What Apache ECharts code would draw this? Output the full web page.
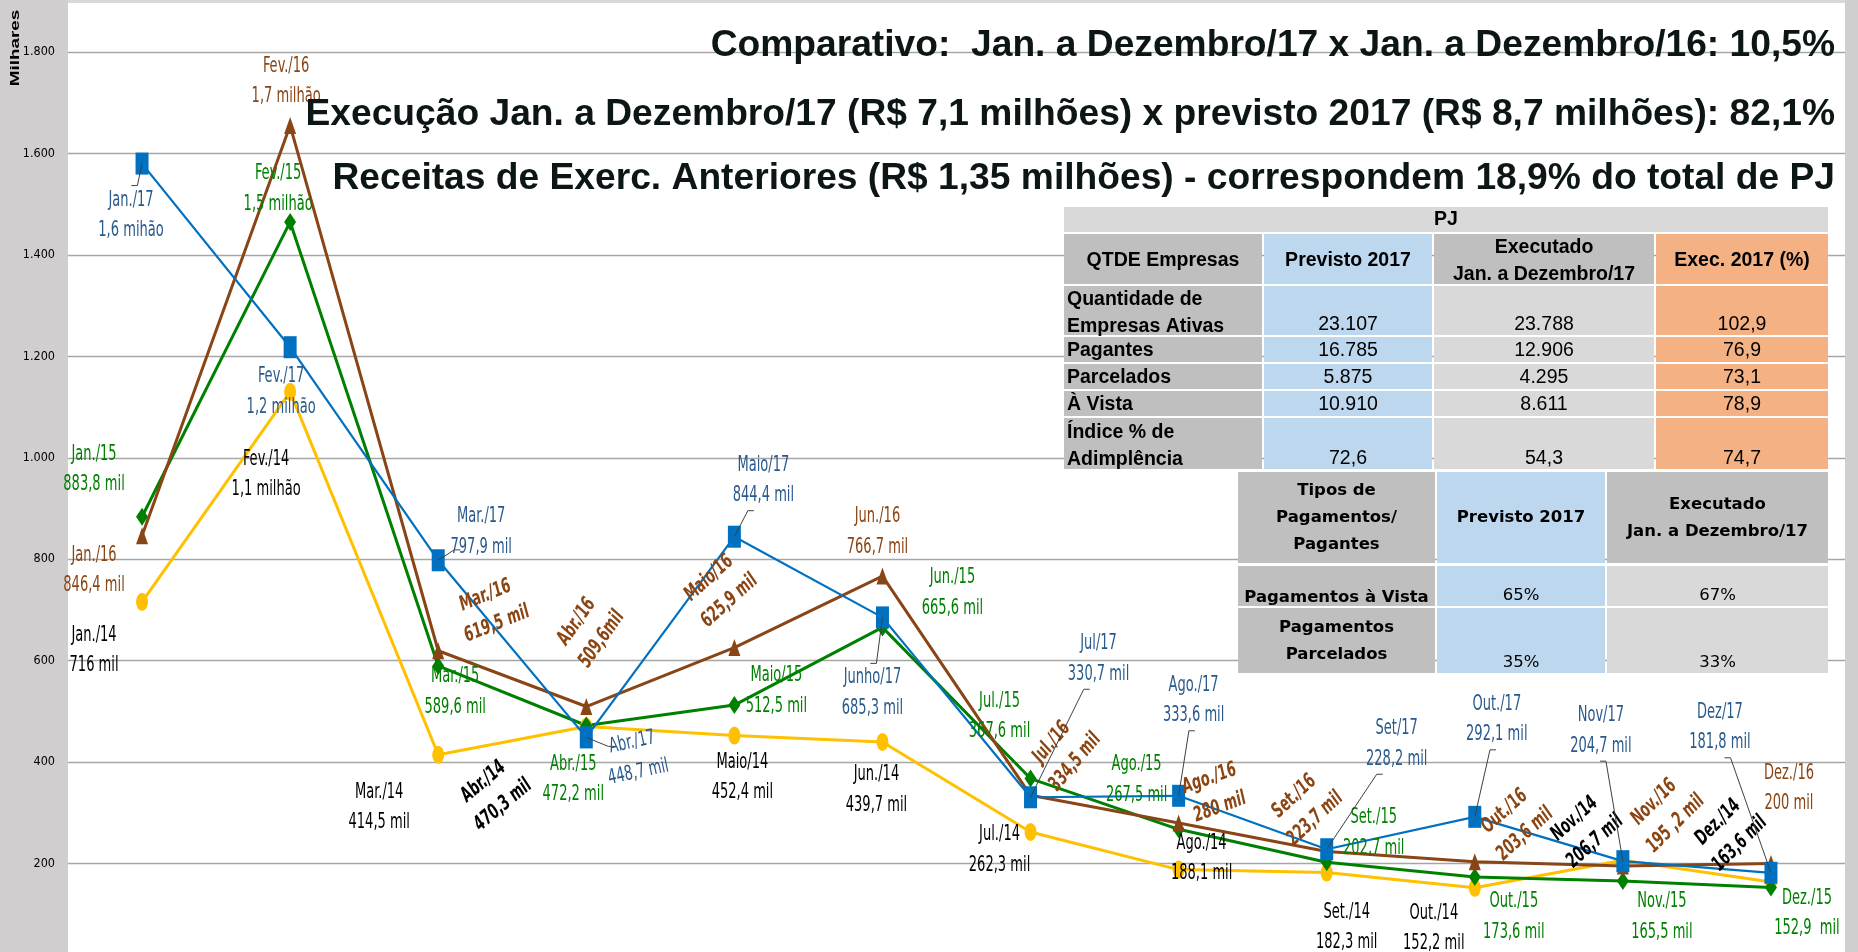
<!DOCTYPE html>
<html><head><meta charset="utf-8">
<script src="https://cdn.jsdelivr.net/npm/echarts@6/dist/echarts.min.js"></script>
<style>html,body{margin:0;padding:0;background:#D0CECE}#c{width:1858px;height:952px}</style>
</head><body><div id="c"></div>
<script>
// ---------- data ----------
const months = ['Jan','Fev','Mar','Abr','Mai','Jun','Jul','Ago','Set','Out','Nov','Dez'];
const v2014 = [716, 1130, 414.5, 470.3, 452.4, 439.7, 262.3, 188.1, 182.3, 152.2, 206.7, 163.6];
const v2015 = [883.8, 1465, 589.6, 472.2, 512.5, 665.6, 367.6, 267.5, 202.7, 173.6, 165.5, 152.9];
const v2016 = [846.4, 1655, 619.5, 509.6, 625.9, 766.7, 334.5, 280, 223.7, 203.6, 195.2, 200];
const v2017 = [1580, 1218, 797.9, 448.7, 844.4, 685.3, 330.7, 333.6, 228.2, 292.1, 204.7, 181.8];

const l2014 = ['Jan./14\n716 mil','Fev./14\n1,1 milhão','Mar./14\n414,5 mil','Abr./14\n470,3 mil','Maio/14\n452,4 mil','Jun./14\n439,7 mil','Jul./14\n262,3 mil','Ago./14\n188,1 mil','Set./14\n182,3 mil','Out./14\n152,2 mil','Nov./14\n206,7 mil','Dez./14\n163,6 mil'];
const l2015 = ['Jan./15\n883,8 mil','Fev./15\n1,5 milhão','Mar./15\n589,6 mil','Abr./15\n472,2 mil','Maio/15\n512,5 mil','Jun./15\n665,6 mil','Jul./15\n367,6 mil','Ago./15\n267,5 mil','Set./15\n202,7 mil','Out./15\n173,6 mil','Nov./15\n165,5 mil','Dez./15\n152,9  mil'];
const l2016 = ['Jan./16\n846,4 mil','Fev./16\n1,7 milhão','Mar./16\n619,5 mil','Abr./16\n509,6mil','Maio/16\n625,9 mil','Jun./16\n766,7 mil','Jul./16\n334,5 mil','Ago./16\n280 mil','Set./16\n223,7 mil','Out./16\n203,6 mil','Nov./16\n195 ,2 mil','Dez./16\n200 mil'];
const l2017 = ['Jan./17\n1,6 mihão','Fev./17\n1,2 milhão','Mar./17\n797,9 mil','Abr./17\n448,7 mil','Maio/17\n844,4 mil','Junho/17\n685,3 mil','Jul/17\n330,7 mil','Ago./17\n333,6 mil','Set/17\n228,2 mil','Out./17\n292,1 mil','Nov/17\n204,7 mil','Dez/17\n181,8 mil'];

const yTicks = [200, 400, 600, 800, 1000, 1200, 1400, 1600, 1800];

const titleLines = [
  'Comparativo:  Jan. a Dezembro/17 x Jan. a Dezembro/16: 10,5%',
  'Execução Jan. a Dezembro/17 (R$ 7,1 milhões) x previsto 2017 (R$ 8,7 milhões): 82,1%',
  'Receitas de Exerc. Anteriores (R$ 1,35 milhões) - correspondem 18,9% do total de PJ'
];

const t1Title = 'PJ';
const t1Header = ['QTDE Empresas','Previsto 2017','Executado\nJan. a Dezembro/17','Exec. 2017 (%)'];
const t1Rows = [
  ['Quantidade de\nEmpresas Ativas','23.107','23.788','102,9'],
  ['Pagantes','16.785','12.906','76,9'],
  ['Parcelados','5.875','4.295','73,1'],
  ['À Vista','10.910','8.611','78,9'],
  ['Índice % de\nAdimplência','72,6','54,3','74,7']
];
const t2Header = ['Tipos de\nPagamentos/\nPagantes','Previsto 2017','Executado\nJan. a Dezembro/17'];
const t2Rows = [
  ['Pagamentos à Vista','65%','67%'],
  ['Pagamentos\nParcelados','35%','33%']
];

// ---------- label layout (pixel offsets of label centre from the point, rotation in degrees) ----------
const lay2014 = [[-48,49,0],[-24,83,0],[-59,53,0],[-93,67,40],[8,42,0],[-6,48,0],[-31,18,0],[23,-11,0],[20,55,0],[-41,41,0],[-38,-30,42],[-42,-49,45]];
const lay2015 = [[-48,-47,0],[-12,-33,0],[17,26,0],[-13,54,0],[42,-14,0],[70,-34,0],[-31,-62,0],[-42,-49,0],[47,-29,0],[39,40,0],[39,36,0],[36,26,0]];
const lay2016 = [[-48,35,0],[-4,-44,0],[53,-41,22],[3,-76,55],[-15,-58,42],[-5,-44,0],[33,-43,50],[36,-30,20],[-22,-44,43],[40,-39,42],[42,-53,45],[18,-75,0]];
const lay2017 = [[-11,52,0],[-9,45,0],[43,-28,0],[49,20,12],[29,-56,0],[-10,76,0],[68,-138,0],[15,-95,0],[70,-105,0],[22,-97,0],[-22,-130,0],[-51,-145,0]];
const leader2017 = [1,0,1,1,1,1,1,1,1,1,1,1];

const NARROW = "'DejaVu Sans Condensed',sans-serif";
const ARIAL = "'Liberation Sans',Arial,sans-serif";
const ELLIPSE = 'path://M0,10A6,10 0 1,1 12,10A6,10 0 1,1 0,10Z';

function mkLine(name, values, color, symbol, symbolSize, width) {
  return {
    name: name, type: 'line', data: values,
    symbol: symbol, symbolSize: symbolSize, showAllSymbol: true,
    lineStyle: { color: color, width: width },
    itemStyle: { color: color },
    label: { show: false },
    emphasis: { disabled: true }, z: 2
  };
}

// data labels: drawn through the axes' coord() with a vertical stretch like the original
function mkLabels(values, labels, lay, color, italicRot, leader) {
  return {
    type: 'custom', silent: true, z: 5, clip: false,
    data: values.map((v, i) => [i, v]),
    renderItem: (params, api) => {
      const i = params.dataIndex;
      const p = api.coord([api.value(0), api.value(1)]);
      const l = lay[i];
      const cx = p[0] + l[0], cy = p[1] + l[1];
      const children = [];
      if (leader && leader[i]) {
        const X = l[0], Y = l[1];
        const t = Math.min(27 / Math.max(Math.abs(X), 1e-6), 30 / Math.max(Math.abs(Y), 1e-6));
        if (t < 1) {
          const ex = p[0] + X * (1 - t), ey = p[1] + Y * (1 - t);
          children.push({ type: 'polyline', shape: { points: [[p[0], p[1]], [ex, ey], [ex + (X >= 0 ? 6 : -6), ey]] },
            style: { stroke: '#404040', lineWidth: 1, fill: null } });
        }
      }
      const italic = l[2] && italicRot;
      children.push({ type: 'text', x: cx, y: cy, rotation: l[2] * Math.PI / 180, scaleY: 1.42,
        style: { text: labels[i], fill: color, font: (italic ? 'italic bold ' : '') + '14.5px ' + NARROW,
          lineHeight: 21.5, align: 'center', verticalAlign: 'middle' } });
      return { type: 'group', children: children };
    }
  };
}

// ---------- tables (graphic) ----------
function cell(x, y, w, h, fill) {
  return { type: 'rect', shape: { x: x, y: y, width: w, height: h }, style: { fill: fill }, z: 100 };
}
function txt(x, y, s, opt) {
  return { type: 'text', x: x, y: y, z: 101, style: Object.assign({ text: s, align: 'center', verticalAlign: 'middle', fill: '#000', font: '19.5px ' + ARIAL }, opt || {}) };
}
const g = [];
g.push({ type: 'rect', shape: { x: 68, y: 3, width: 1777, height: 949 }, style: { fill: '#fff' }, z: -100 });
g.push({ type: 'rect', shape: { x: 68, y: 0, width: 1777, height: 3 }, style: { fill: '#D9D9D9' }, z: -100 });

// Milhares
g.push({ type: 'text', x: 15, y: 48, rotation: Math.PI / 2, scaleX: 1.45, z: 50,
  style: { text: 'Milhares', align: 'center', verticalAlign: 'middle', fill: '#000', font: 'bold 13px ' + ARIAL } });

// titles
const titleY = [46, 115, 179];
titleLines.forEach((t, i) => g.push({ type: 'text', x: 1835, y: titleY[i], z: 110,
  style: { text: t, align: 'right', verticalAlign: 'middle', fill: '#0D1616', font: 'bold 37.2px ' + ARIAL } }));

// table 1
const c1x = [1064, 1264, 1434, 1656], c1w = [198, 168, 220, 172];
const r1y = [286, 337, 364, 391, 418], r1h = [49, 25, 25, 25, 51];
g.push(cell(1064, 207, 764, 25, '#D9D9D9'));
g.push(txt(1446, 220, t1Title, { font: 'bold 19.5px ' + ARIAL }));
const h1Fill = ['#BFBFBF', '#BDD7EE', '#BFBFBF', '#F4B183'];
const d1Fill = ['#BFBFBF', '#BDD7EE', '#D9D9D9', '#F4B183'];
t1Header.forEach((s, j) => {
  g.push(cell(c1x[j], 234, c1w[j], 50, h1Fill[j]));
  g.push(txt(c1x[j] + c1w[j] / 2, 261, s, { font: 'bold 19.5px ' + ARIAL, lineHeight: 27 }));
});
t1Rows.forEach((row, i) => {
  const y = r1y[i], h = r1h[i], multi = row[0].indexOf('\n') >= 0;
  row.forEach((s, j) => {
    g.push(cell(c1x[j], y, c1w[j], h, d1Fill[j]));
    if (j === 0) {
      g.push(txt(c1x[j] + 3, multi ? y + h / 2 + 3 : y + h / 2 + 1, s, { align: 'left', font: 'bold 19.5px ' + ARIAL, lineHeight: 27 }));
    } else {
      g.push(txt(c1x[j] + c1w[j] / 2, multi ? y + h - 10 : y + h / 2 + 1, s, {}));
    }
  });
});

// table 2
const c2x = [1238, 1437, 1607], c2w = [197, 168, 221];
const h2Fill = ['#BFBFBF', '#BDD7EE', '#BFBFBF'];
const d2Fill = ['#BFBFBF', '#BDD7EE', '#D9D9D9'];
const DJ = "'DejaVu Sans',Verdana,sans-serif";
t2Header.forEach((s, j) => {
  g.push(cell(c2x[j], 472, c2w[j], 91, h2Fill[j]));
  g.push(txt(c2x[j] + c2w[j] / 2, 518, s, { font: 'bold 16.5px ' + DJ, lineHeight: 27 }));
});
const r2y = [566, 608], r2h = [40, 65];
t2Rows.forEach((row, i) => {
  const y = r2y[i], h = r2h[i];
  row.forEach((s, j) => {
    g.push(cell(c2x[j], y, c2w[j], h, d2Fill[j]));
    if (j === 0) {
      g.push(txt(c2x[j] + c2w[j] / 2, i === 0 ? y + h - 8 : y + h / 2 + 1, s, { font: 'bold 16.5px ' + DJ, lineHeight: 27 }));
    } else {
      g.push(txt(c2x[j] + c2w[j] / 2, y + h - 10, s, { font: '16.5px ' + DJ }));
    }
  });
});

const chart = echarts.init(document.getElementById('c'));
chart.setOption({
  animation: false,
  backgroundColor: 'transparent',
  grid: { left: 68, right: 13, top: 52, height: 913, containLabel: false, outerBoundsMode: 'none' },
  xAxis: { type: 'category', data: months, boundaryGap: true, show: false },
  yAxis: {
    type: 'value', min: 0, max: 1800, interval: 200,
    axisLine: { show: false }, axisTick: { show: false },
    splitLine: { lineStyle: { color: '#A6A6A6', width: 1.3 } },
    axisLabel: { margin: 13, color: '#000', fontFamily: NARROW, fontSize: 12.5,
      formatter: v => yTicks.indexOf(v) >= 0 ? String(v).replace(/\B(?=(\d{3})+(?!\d))/g, '.') : '' }
  },
  series: [
    mkLine('2014', v2014, '#FFC000', ELLIPSE, [12, 18], 3),
    mkLine('2015', v2015, '#008000', 'diamond', [12, 18], 3),
    mkLine('2016', v2016, '#8A4516', 'triangle', [12, 17], 3),
    mkLine('2017', v2017, '#0070C0', 'rect', [13, 22], 2.2),
    mkLabels(v2014, l2014, lay2014, '#000', true, null),
    mkLabels(v2015, l2015, lay2015, '#008000', true, null),
    mkLabels(v2016, l2016, lay2016, '#8B4513', true, null),
    mkLabels(v2017, l2017, lay2017, '#2A5A8C', false, leader2017)
  ],
  graphic: g
});
</script>
</body></html>
